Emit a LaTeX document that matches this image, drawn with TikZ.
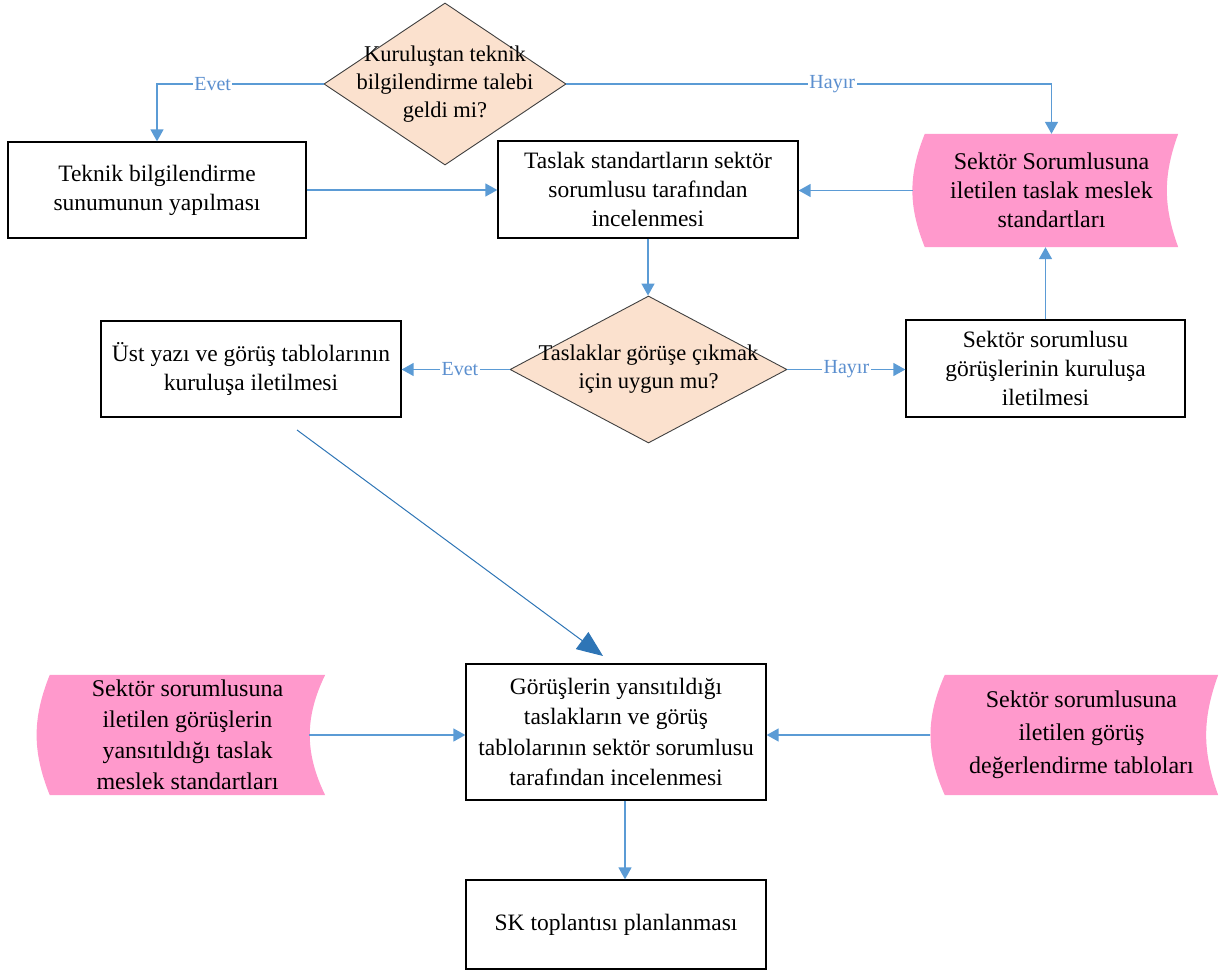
\documentclass[tikz,border=0pt]{standalone}
\usepackage{fontspec}
\setmainfont{Liberation Serif}
\usetikzlibrary{shapes.geometric,arrows.meta,backgrounds}
\definecolor{conn}{HTML}{5B9BD5}
\definecolor{diagc}{HTML}{2E75B6}
\definecolor{peach}{HTML}{FBE1CE}
\definecolor{pinkf}{HTML}{FF99CC}
\definecolor{dborder}{HTML}{404040}
\definecolor{lbl}{HTML}{5B8FCF}
\newcommand{\pinkshape}[3]{%
  \fill[pinkf] (#1.south west) to[bend left=#2] (#1.north west) -- (#1.north east)
    to[bend right=#3] (#1.south east) -- cycle;}
\begin{document}
\begin{tikzpicture}[x=1pt,y=-1pt,
  box/.style={draw=black,line width=1.3pt,fill=white,align=center,inner sep=0pt,
    font=\fontsize{23.5}{29}\selectfont},
  dia/.style={diamond,draw=dborder,line width=0.9pt,fill=peach,inner sep=0pt},
  diatext/.style={align=center,inner sep=0pt,font=\fontsize{22.5}{28}\selectfont},
  pinkbox/.style={align=center,inner sep=0pt,font=\fontsize{24}{29}\selectfont},
  conn/.style={draw=conn,line width=1.5pt,-{Triangle[length=12pt,width=13pt]}},
  lab/.style={fill=white,text=lbl,inner sep=1.5pt,font=\fontsize{20}{22}\selectfont},
]
\useasboundingbox (0,0) rectangle (1219,971);

% diamonds
\node[dia,minimum width=242,minimum height=162] (d1) at (445,84) {};
\node[diatext] (d1t) at (445,84) {Kuruluştan teknik\\bilgilendirme talebi\\geldi mi?};
\node[dia,minimum width=277,minimum height=147] (d2) at (648.5,369.5) {};
\node[diatext] (d2t) at (648.5,369.5) {Taslaklar görüşe çıkmak\\için uygun mu?};

% boxes
\node[box,minimum width=298,minimum height=96] (teknik) at (157,190) {Teknik bilgilendirme\\sunumunun yapılması};
\node[box,minimum width=300,minimum height=97] (taslak) at (648,189.5) {Taslak standartların sektör\\sorumlusu tarafından\\incelenmesi};
\node[box,minimum width=300,minimum height=96] (ust) at (251,369) {Üst yazı ve görüş tablolarının\\kuruluşa iletilmesi};
\node[box,minimum width=279,minimum height=97] (sgor) at (1045.5,368.5) {Sektör sorumlusu\\görüşlerinin kuruluşa\\iletilmesi};
\node[box,minimum width=300,minimum height=136,font=\fontsize{23.5}{30.5}\selectfont] (mid) at (616,732) {Görüşlerin yansıtıldığı\\taslakların ve görüş\\tablolarının sektör sorumlusu\\tarafından incelenmesi};
\node[box,minimum width=300,minimum height=89] (sk) at (616,924.5) {SK toplantısı planlanması};

% pink stored-data shapes
\node[pinkbox,minimum width=253,minimum height=113] (p1) at (1051.5,190.5) {Sektör Sorumlusuna\\iletilen taslak meslek\\standartları};
\node[pinkbox,minimum width=275,minimum height=120,font=\fontsize{24}{31}\selectfont] (p2) at (187.5,735) {Sektör sorumlusuna\\iletilen görüşlerin\\yansıtıldığı taslak\\meslek standartları};
\node[pinkbox,minimum width=273,minimum height=120,font=\fontsize{24}{33}\selectfont] (p3) at (1081.5,735) {Sektör sorumlusuna\\iletilen görüş\\değerlendirme tabloları};
\begin{scope}[on background layer]
  \pinkshape{p1}{22}{20}
  \pinkshape{p2}{22}{26}
  \pinkshape{p3}{24}{20}
\end{scope}

% connectors
\draw[conn] (d1.west) -| node[lab,pos=0.333]{Evet} (teknik.north);
\draw[conn] (d1.east) -| node[lab,pos=0.274]{Hayır} (p1.north);
\draw[conn] (teknik.east) -- (teknik.east -| taslak.west);
\draw[conn] ([xshift=-12pt]p1.west) -- (taslak.east |- p1.west);
\draw[conn] (taslak.south) -- (taslak.south |- d2.north);
\draw[conn] (d2.west) -- node[lab,pos=0.46]{Evet} (ust.east |- d2.west);
\draw[conn] (d2.east) -- node[lab,pos=0.5]{Hayır} (sgor.west |- d2.east);
\draw[conn] (sgor.north) -- (sgor.north |- p1.south);
\coordinate (dstart) at (297,430);
\coordinate (dend) at (603,656);
\draw[draw=diagc,line width=1pt,-{Triangle[length=26pt,width=21pt]}] (dstart) -- (dend);
\draw[conn] ([xshift=-16pt]p2.east) -- (mid.west |- p2.east);
\draw[conn] ([xshift=-15pt]p3.west) -- (mid.east |- p3.west);
\draw[conn] ([xshift=9pt]mid.south) -- ([xshift=9pt]sk.north);
\end{tikzpicture}
\end{document}
